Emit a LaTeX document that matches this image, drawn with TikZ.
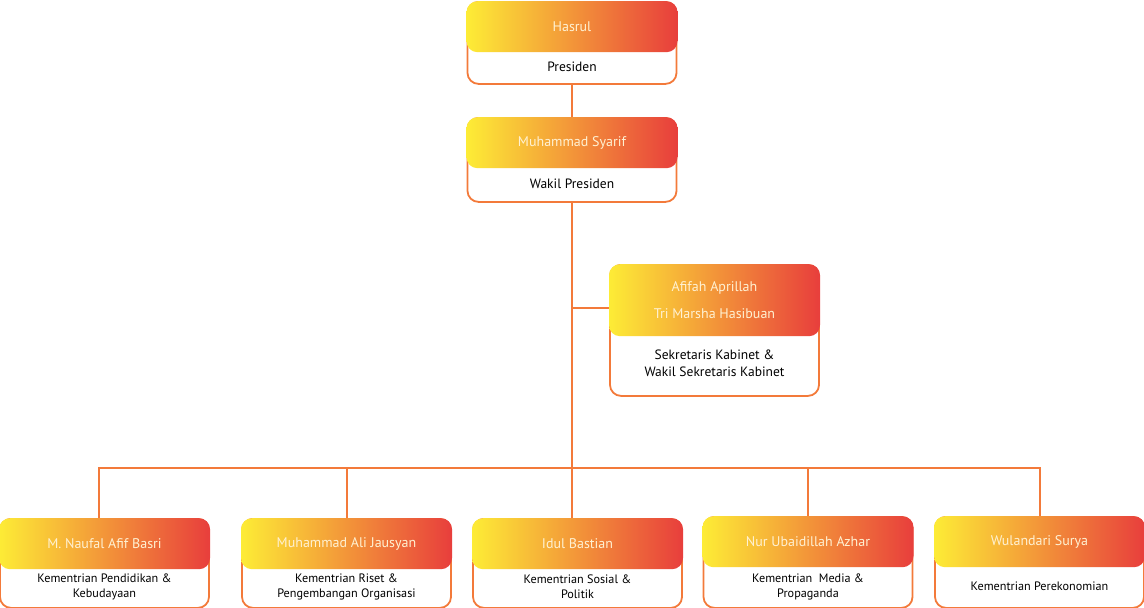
\documentclass[tikz,border=0pt]{standalone}
\usepackage{fontspec}
\setmainfont{PT Sans}
\usetikzlibrary{positioning}
\definecolor{linkorange}{HTML}{F37A3A}
\definecolor{gradyellow}{HTML}{FDEC36}
\definecolor{gradorange}{HTML}{F39B40}
\definecolor{gradred}{HTML}{E83E3C}
\definecolor{namecream}{HTML}{FFF1D2}

\begin{document}
\begin{tikzpicture}[x=1pt, y=-1pt,
    link/.style={draw=linkorange, line width=1.8pt},
    frame/.style={draw=linkorange, line width=1.8pt, fill=white, rounded corners=11pt,
      inner sep=0pt, anchor=north, minimum width=209pt},
    head/.style={left color=gradyellow, middle color=gradorange, right color=gradred,
      rounded corners=11pt, inner sep=0pt, anchor=north, minimum width=211pt,
      text=namecream, align=center, font=\fontsize{14}{27}\selectfont},
    role/.style={align=center, font=\fontsize{13.5}{17}\selectfont},
    minrole/.style={align=center, font=\fontsize{12.2}{15}\selectfont}]
    \useasboundingbox (0,0) rectangle (1144,608);

    % connectors
    \coordinate (busleft) at (99,468);
    \coordinate (busright) at (1040,468);
    \coordinate (bus) at (572,468);
    \coordinate (branch) at (572,308);
    \coordinate (alidrop) at (347,468);

    % top cards
    \node[frame, minimum height=82pt] (hasrul) at (572,1) {};
    \node[head, minimum height=51pt] (hasrulhead) at (572,1) {Hasrul};
    \node[role] (hasrulrole) at (572,67) {Presiden};

    \node[frame, minimum height=84pt] (syarif) at (572,117) {};
    \node[head, minimum height=51pt] (syarifhead) at (572,117) {Muhammad Syarif};
    \node[role] (syarifrole) at (572,184) {Wakil Presiden};

    \node[frame, minimum height=131pt] (sekretaris) at (714.5,264) {};
    \node[head, minimum height=72pt] (sekretarishead) at (714.5,264) {Afifah Aprillah\\Tri Marsha Hasibuan};
    \node[role] (sekretarisrole) at (714.5,363) {Sekretaris Kabinet \&\\Wakil Sekretaris Kabinet};

    % ministers
    \node[frame, minimum height=89pt] (naufal) at (104.5,518) {};
    \node[head, minimum height=51pt] (naufalhead) at (104.5,518) {M. Naufal Afif Basri};
    \node[minrole] (naufalrole) at (104.5,587) {Kementrian Pendidikan \&\\Kebudayaan};

    \node[frame, minimum height=89pt] (ali) at (346.5,518) {};
    \node[head, minimum height=51pt] (alihead) at (346.5,518) {Muhammad Ali Jausyan};
    \node[minrole] (alirole) at (346.5,587) {Kementrian Riset \&\\Pengembangan Organisasi};

    \node[frame, minimum height=89pt] (idul) at (577.5,518) {};
    \node[head, minimum height=51pt] (idulhead) at (577.5,518) {Idul Bastian};
    \node[minrole] (idulrole) at (577.5,587) {Kementrian Sosial \&\\Politik};

    \node[frame, minimum height=91pt] (nur) at (808,516) {};
    \node[head, minimum height=51pt] (nurhead) at (808,516) {Nur Ubaidillah Azhar};
    \node[minrole] (nurrole) at (808,587) {Kementrian~ Media \&\\Propaganda};

    \node[frame, minimum height=91pt] (wulandari) at (1039.5,516) {};
    \node[head, minimum height=51pt] (wulandarihead) at (1039.5,516) {Wulandari Surya};
    \node[minrole] (wulandarirole) at (1039.5,586) {Kementrian Perekonomian};

    \path[link]
      (hasrul.south) -- (syarifhead.north)
      (syarif.south) -- (bus |- idulhead.north)
      (branch) -- (branch -| sekretaris.west)
      (busleft |- naufalhead.north) -- (busleft) -- (busright) -- (busright |- wulandarihead.north)
      (alidrop |- alihead.north) -- (alidrop)
      (nurhead.north) -- (nurhead.north |- bus);
\end{tikzpicture}
\end{document}
